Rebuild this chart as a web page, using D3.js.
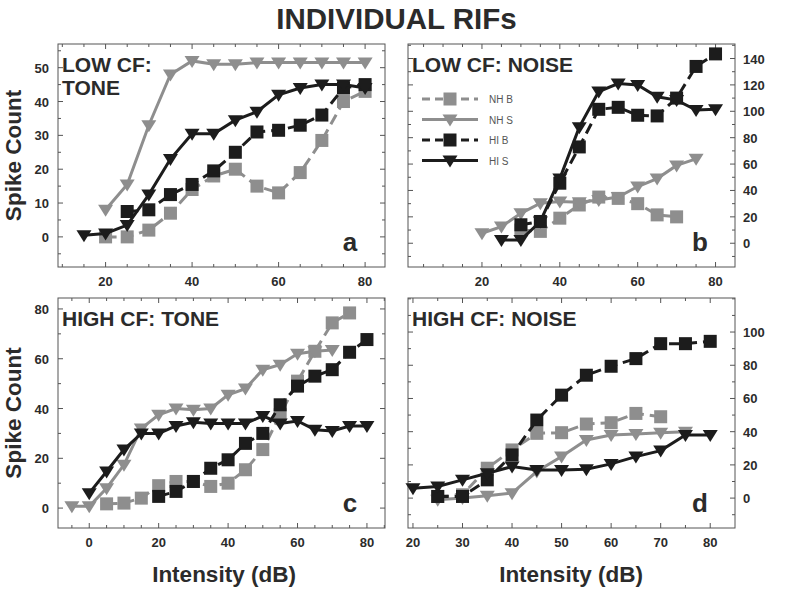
<!DOCTYPE html>
<html><head><meta charset="utf-8">
<script src="https://cdn.jsdelivr.net/npm/d3@7"></script>
<style>
html,body{margin:0;padding:0;background:#fff;}
svg{display:block;font-family:"Liberation Sans",Arial,sans-serif;}
</style></head>
<body><svg id="chart" width="800" height="606"></svg>
<script>
// ---------- DATA ----------
const seriesNames = ["NH B", "NH S", "HI B", "HI S"];

// Panel a: LOW CF: TONE
const xA = [15,20,25,30,35,40,45,50,55,60,65,70,75,80];
const aNHB = [null,0,0,2,7,14,18,20,15,13,19,28.5,40,43];
const aNHS = [null,8,15.5,33,48,52,51,51,51.5,51.5,51.5,51.5,51.5,51.5];
const aHIB = [null,null,7.5,8,12.5,15.5,19.5,25,31,31.5,33,36,44,45];
const aHIS = [0.5,1,3.5,12.5,23,30.5,30.5,34.5,37,42,44,45,45,44];

// Panel b: LOW CF: NOISE
const xB = [20,25,30,35,40,45,50,55,60,65,70,75,80];
const bNHB = [null,null,10,9,19,29,35,34,30,21.5,20,null,null];
const bNHS = [7.6,12.6,22.7,30.3,31.6,31,32.8,35,43,49,59,64,null];
const bHIB = [null,null,14,16.5,45.5,73,101.5,103,97,96.5,110,134,143.5];
const bHIS = [null,2.5,2.5,16.5,49,88,115,121,120,111,108.5,101,101.5];

// Panel c: HIGH CF: TONE
const xC = [-5,0,5,10,15,20,25,30,35,40,45,50,55,60,65,70,75,80];
const cNHB = [null,null,1.7,2,4,9,10.7,10.7,8.7,10,15.4,23.5,37.5,51,63,74.4,78.4,null];
const cNHS = [0.7,0.7,8,17.4,32,37.5,40,39.5,40,45.5,48,55.6,57.6,62,63,63.5,null,null];
const cHIB = [null,null,null,null,null,4.7,6.7,10.7,16,19.4,26,30,41.5,49,53,55.6,62.6,67.7];
const cHIS = [null,6,14.7,23.5,30,30,33,34.5,34,34,34,37,34,35,31.5,31,33,33];

// Panel d: HIGH CF: NOISE
const xD = [20,25,30,35,40,45,50,55,60,65,70,75,80];
const dNHB = [null,1,2,18,29,39,39.4,44.6,45.4,51,49,null,null];
const dNHS = [null,-1,0,1.4,3,16,25,35,38,38.6,39.4,40,null];
const dHIB = [null,1,1,11,26,47,62,74,79.4,84,93,93,94.4];
const dHIS = [6,7,11,15,19,17,17,17.4,20.6,25,28.6,38,38];

const xTicksA = [20,40,60,80], yTicksA = [0,10,20,30,40,50];
const xTicksB = [20,40,60,80], yTicksB = [0,20,40,60,80,100,120,140];
const xTicksC = [0,20,40,60,80], yTicksC = [0,20,40,60,80];
const xTicksD = [20,30,40,50,60,70,80], yTicksD = [0,20,40,60,80,100];

const titleText = "INDIVIDUAL RIFs";
const yLabelText = "Spike Count";
const xLabelText = "Intensity (dB)";

// ---------- STYLE / LAYOUT ----------
const GRAY = "#8e8e8e", BLACK = "#1c1c1c", TEXT = "#2b2b2b";
const seriesStyle = {
  "NH B": {color: GRAY, dash: "11,6", marker: "square"},
  "NH S": {color: GRAY, dash: null, marker: "tri"},
  "HI B": {color: BLACK, dash: "11,6", marker: "square"},
  "HI S": {color: BLACK, dash: null, marker: "tri"}
};

const panels = [
  {x: xA, s: [aNHB,aNHS,aHIB,aHIS], xd:[9,84.6], yd:[-8.9,57], xt:xTicksA, yt:yTicksA, xm:5, ym:5,
   box:[58,44,385,267], side:"left", title:["LOW CF:","TONE"], letter:"a", xlab:false, ylab:true},
  {x: xB, s: [bNHB,bNHS,bHIB,bHIS], xd:[1,85], yd:[-18,151], xt:xTicksB, yt:yTicksB, xm:5, ym:10,
   box:[408,44,735,267], side:"right", title:["LOW CF: NOISE"], letter:"b", xlab:false, ylab:false, legend:true},
  {x: xC, s: [cNHB,cNHS,cHIB,cHIS], xd:[-9,85.2], yd:[-8,84.4], xt:xTicksC, yt:yTicksC, xm:5, ym:10,
   box:[58,298,385,528], side:"left", title:["HIGH CF: TONE"], letter:"c", xlab:true, ylab:true},
  {x: xD, s: [dNHB,dNHS,dHIB,dHIS], xd:[19,85], yd:[-18,120.5], xt:xTicksD, yt:yTicksD, xm:5, ym:10,
   box:[408,298,735,528], side:"right", title:["HIGH CF: NOISE"], letter:"d", xlab:true, ylab:false}
];

const svg = d3.select("#chart");

svg.append("text").attr("x", 396.5).attr("y", 29).attr("text-anchor","middle")
  .attr("font-size", 29.5).attr("font-weight","bold").attr("fill", TEXT)
  .text(titleText);

function drawMarker(g, type, cx, cy, color) {
  if (type === "square") {
    g.append("rect").attr("x", cx-6.5).attr("y", cy-6.5).attr("width",13).attr("height",13).attr("fill",color);
  } else {
    const h = 12, w = 15;
    g.append("path").attr("d", `M${cx-w/2},${cy-h/2+1}L${cx+w/2},${cy-h/2+1}L${cx},${cy+h/2+1}Z`).attr("fill",color);
  }
}

panels.forEach(p => {
  const [x0,y0,x1,y1] = p.box;
  const x = d3.scaleLinear().domain(p.xd).range([x0,x1]);
  const y = d3.scaleLinear().domain(p.yd).range([y1,y0]);
  const g = svg.append("g");

  // frame
  g.append("rect").attr("x",x0).attr("y",y0).attr("width",x1-x0).attr("height",y1-y0)
    .attr("fill","none").attr("stroke","#555").attr("stroke-width",1);

  // ticks (major + minor) on all four sides, pointing inward
  const tickG = g.append("g").attr("stroke","#555").attr("stroke-width",1);
  const xMinor = d3.range(Math.ceil(p.xd[0]/p.xm)*p.xm, p.xd[1], p.xm);
  const yMinor = d3.range(Math.ceil(p.yd[0]/p.ym)*p.ym, p.yd[1], p.ym);
  xMinor.forEach(v => {
    const major = p.xt.includes(v); const L = major ? 5 : 3;
    tickG.append("line").attr("x1",x(v)).attr("x2",x(v)).attr("y1",y1).attr("y2",y1-L);
    tickG.append("line").attr("x1",x(v)).attr("x2",x(v)).attr("y1",y0).attr("y2",y0+L);
  });
  yMinor.forEach(v => {
    const major = p.yt.includes(v); const L = major ? 5 : 3;
    tickG.append("line").attr("y1",y(v)).attr("y2",y(v)).attr("x1",x0).attr("x2",x0+L);
    tickG.append("line").attr("y1",y(v)).attr("y2",y(v)).attr("x1",x1).attr("x2",x1-L);
  });

  // tick labels
  p.xt.forEach(v => {
    g.append("text").attr("x", x(v)).attr("y", y1+19).attr("text-anchor","middle")
      .attr("font-size",13).attr("font-weight","bold").attr("fill",TEXT).text(v);
  });
  p.yt.forEach(v => {
    g.append("text").attr("x", p.side==="left" ? x0-9 : x1+8).attr("y", y(v)+5)
      .attr("text-anchor", p.side==="left" ? "end" : "start")
      .attr("font-size",13).attr("font-weight","bold").attr("fill",TEXT).text(v);
  });

  // panel title
  p.title.forEach((t,i) => {
    g.append("text").attr("x", x0+4).attr("y", y0+28+i*23).attr("font-size",21)
      .attr("font-weight","bold").attr("fill",TEXT).text(t);
  });
  // panel letter
  g.append("text").attr("x", x1-35).attr("y", y1-16).attr("text-anchor","middle").attr("font-size",26)
    .attr("font-weight","bold").attr("fill",TEXT).text(p.letter);

  // series
  seriesNames.forEach((name,i) => {
    const st = seriesStyle[name];
    const pts = p.x.map((xv,j) => [xv, p.s[i][j]]).filter(d => d[1] !== null);
    const line = d3.line().x(d => x(d[0])).y(d => y(d[1]));
    g.append("path").attr("d", line(pts)).attr("fill","none").attr("stroke",st.color)
      .attr("stroke-width",3).attr("stroke-dasharray", st.dash);
    const mg = g.append("g");
    pts.forEach(d => drawMarker(mg, st.marker, x(d[0]), y(d[1]), st.color));
  });

  // legend
  if (p.legend) {
    const lg = g.append("g");
    seriesNames.forEach((name,i) => {
      const st = seriesStyle[name];
      const ly = 99 + i*20.5;
      lg.append("line").attr("x1",422).attr("x2",478).attr("y1",ly).attr("y2",ly)
        .attr("stroke",st.color).attr("stroke-width",3).attr("stroke-dasharray", st.dash ? "8,5" : null);
      drawMarker(lg, st.marker, 450, ly, st.color);
      lg.append("text").attr("x",489).attr("y",ly+4).attr("font-size",10).attr("fill","#555").text(name);
    });
  }

  if (p.ylab) {
    g.append("text").attr("transform", `translate(21,${(y0+y1)/2}) rotate(-90)`)
      .attr("text-anchor","middle").attr("font-size",22.5).attr("font-weight","bold").attr("fill",TEXT)
      .text(yLabelText);
  }
  if (p.xlab) {
    g.append("text").attr("x", p.side==="left" ? 224 : 571).attr("y", 582).attr("text-anchor","middle")
      .attr("font-size",22.5).attr("font-weight","bold").attr("fill",TEXT).text(xLabelText);
  }
});
</script></body></html>
